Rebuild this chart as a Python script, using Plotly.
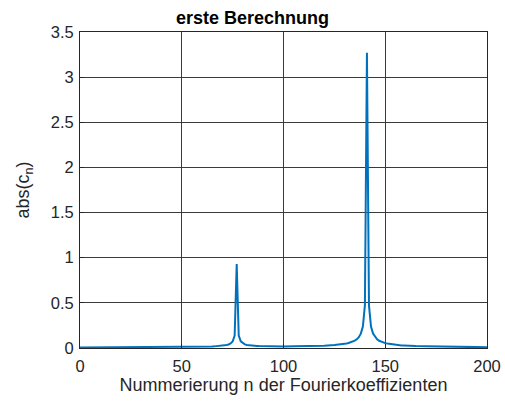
import plotly.graph_objects as go

n_vals = [0, 5, 10, 15, 20, 25, 30, 35, 40, 45, 50, 55, 60,
          65, 66, 67, 68, 69, 70, 71, 72, 73, 74, 75, 76, 77, 78, 79, 80,
          81, 82, 83, 84, 85, 86, 87, 88, 89, 90,
          95, 100, 105, 110, 115, 120, 125,
          126, 127, 128, 129, 130, 131, 132, 133, 134, 135, 136, 137, 138, 139, 140,
          141, 142, 143, 144, 145, 146, 147, 148, 149, 150, 151, 152, 153, 154, 155,
          156, 157, 158, 159, 160, 165, 170, 175, 180, 185, 190, 195, 200]
abs_cn = [0.005, 0.0053, 0.0055, 0.0058, 0.0062, 0.0065, 0.007, 0.0075, 0.0081, 0.009, 0.010, 0.0114, 0.0134,
          0.017, 0.018, 0.0194, 0.021, 0.023, 0.025, 0.028, 0.033, 0.039, 0.050, 0.072, 0.137, 0.93, 0.137, 0.073, 0.051,
          0.040, 0.034, 0.030, 0.027, 0.025, 0.023, 0.022, 0.021, 0.020, 0.019,
          0.017, 0.017, 0.018, 0.019, 0.021, 0.025, 0.032,
          0.034, 0.036, 0.039, 0.042, 0.045, 0.049, 0.055, 0.061, 0.069, 0.081, 0.096, 0.120, 0.159, 0.237, 0.472,
          3.27, 0.472, 0.237, 0.159, 0.1195, 0.096, 0.080, 0.069, 0.061, 0.054, 0.049, 0.045, 0.041, 0.038, 0.035,
          0.033, 0.031, 0.029, 0.028, 0.026, 0.021, 0.018, 0.015, 0.0133, 0.012, 0.011, 0.0098, 0.009]

x_ticks = [0, 50, 100, 150, 200]
y_ticks = [0, 0.5, 1, 1.5, 2, 2.5, 3, 3.5]
y_tick_labels = ["0", "0.5", "1", "1.5", "2", "2.5", "3", "3.5"]

font_family = "Liberation Sans, Arial, sans-serif"

fig = go.Figure()
fig.add_trace(go.Scatter(x=n_vals, y=abs_cn, mode="lines",
                         line=dict(color="#0072BD", width=2)))

axis_common = dict(showline=True, linecolor="#262626", linewidth=1, mirror=True,
                   showgrid=True, gridcolor="#3a3a3a", gridwidth=1,
                   zeroline=False, ticks="inside", ticklen=4, tickcolor="#262626",
                   automargin=False,
                   tickfont=dict(size=16.5, color="#262626", family=font_family))

fig.update_layout(
    width=505, height=401, autosize=False,
    margin=dict(l=80, r=18, t=32, b=53, pad=0),
    paper_bgcolor="white", plot_bgcolor="white",
    showlegend=False,
    title=dict(text="<b>erste Berechnung</b>", x=0.5, xanchor="center", y=0.957, yanchor="middle",
               font=dict(size=18, color="black", family=font_family)),
    xaxis=dict(range=[0, 200], tickvals=x_ticks, ticklabelstandoff=3,
               title=dict(text="Nummerierung n der Fourierkoeffizienten", standoff=0,
                          font=dict(size=18, color="#262626", family=font_family)),
               **axis_common),
    yaxis=dict(range=[0, 3.5], tickvals=y_ticks, ticktext=y_tick_labels, ticklabelstandoff=2,
               title=dict(text="abs(c<sub>n</sub>)", standoff=16,
                          font=dict(size=18, color="#262626", family=font_family)),
               **axis_common),
)

fig.write_html("out.html")
